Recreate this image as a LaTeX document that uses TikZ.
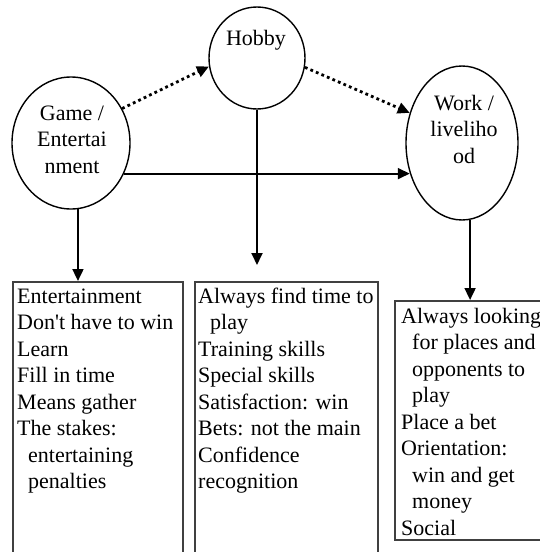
\documentclass[tikz,border=0pt]{standalone}
\usepackage{fontspec}
\setmainfont{Liberation Serif}
\usetikzlibrary{shapes.geometric}
\usetikzlibrary{calc}
\usetikzlibrary{arrows.meta}

\begin{document}
\begin{tikzpicture}[x=1pt, y=-1pt,
	bubble/.style={ellipse, draw, line width=1.4pt, inner sep=0pt},
	listbox/.style={rectangle, draw=black!75, line width=1.9pt, inner sep=0pt, anchor=north west},
	txt/.style={inner sep=0pt, font=\fontsize{22}{26.5}\selectfont},
	arr/.style={line width=1.8pt, -{Triangle[length=12pt, width=11pt]}},
	dotarr/.style={line width=2.8pt, dash pattern=on 2.8pt off 3.2pt, -{Triangle[length=12pt, width=11pt]}}]

		\clip (0,0) rectangle (540,552);

		\node[bubble, minimum width=118, minimum height=132] (game) at (71,143) {};
		\node[bubble, minimum width=96, minimum height=102] (hobby) at (257,58) {};
		\node[bubble, minimum width=112, minimum height=154] (work) at (462,143) {};

		\node[txt, anchor=base] (gametxt) at (72,120) {\parbox[t]{90pt}{\centering Game /\\Entertai\\nment}};
		\node[txt, anchor=base] (hobbytxt) at (256,45) {Hobby};
		\node[txt, anchor=base] (worktxt) at (464,110) {\parbox[t]{90pt}{\centering Work /\\liveliho\\od}};

		\node[listbox, minimum width=170, minimum height=300] (leftbox) at (12,281) {};
		\node[listbox, minimum width=183, minimum height=300] (midbox) at (194,281) {};
		\node[listbox, minimum width=170, minimum height=239] (rightbox) at (394,300) {};

		\node[txt, anchor=base west] (leftlist) at (17,303) {\parbox[t]{170pt}{Entertainment\\Don\textquotesingle t have to win\\Learn\\Fill in time\\Means gather\\The stakes:\\\hspace*{11pt}entertaining\\\hspace*{11pt}penalties}};
		\node[txt, anchor=base west] (midlist) at (198,303) {\parbox[t]{180pt}{Always find time to\\\hspace*{12pt}play\\Training skills\\Special skills\\Satisfaction: win\\Bets: not the main\\Confidence\\recognition}};
		\node[txt, anchor=base west] (rightlist) at (401,323) {\parbox[t]{150pt}{Always looking\\\hspace*{11pt}for places and\\\hspace*{11pt}opponents to\\\hspace*{11pt}play\\Place a bet\\Orientation:\\\hspace*{11pt}win and get\\\hspace*{11pt}money\\Social}};

		\draw[dotarr] (game.34) -- (hobby.190);
		\draw[dotarr] (hobby.349) -- (work.150);
		\draw[arr] (game.-30) -- (game.-30 -| work.210);
		\draw[arr] (game.-84) -- (game.-84 |- leftbox.north);
		\coordinate (hobbyend) at (257,265);
		\draw[arr] (hobby.south) -- (hobbyend);
		\draw[arr] (work.-84) -- (work.-84 |- rightbox.north);
\end{tikzpicture}
\end{document}
